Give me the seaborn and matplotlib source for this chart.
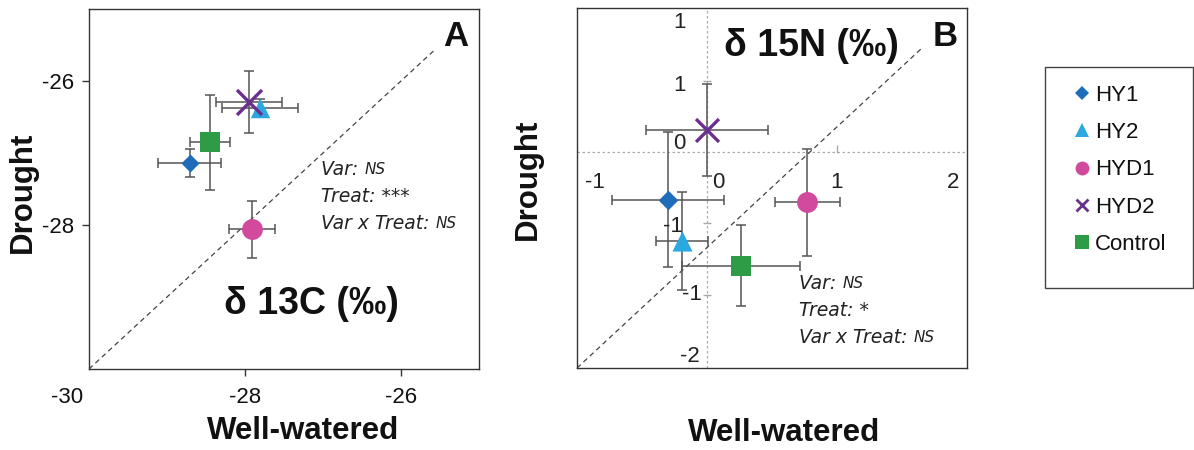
import matplotlib
matplotlib.use("Agg")
import matplotlib.pyplot as plt
import matplotlib.transforms as mtransforms
from matplotlib.lines import Line2D
from matplotlib.patches import Rectangle
import seaborn as sns
import pandas as pd

# ---------------- data ----------------
varieties = ["HY1", "HY2", "HYD1", "HYD2", "Control"]
colors = ["#1f6db8", "#2ba8e0", "#d24a9d", "#6b2f8f", "#2e9b47"]
markers = ["D", "^", "o", "x", "s"]

# Panel A: delta 13C
c13_ww = [-28.71, -27.81, -27.91, -27.95, -28.45]
c13_ww_err = [0.40, 0.49, 0.29, 0.42, 0.26]
c13_dr = [-27.14, -26.37, -28.06, -26.29, -26.85]
c13_dr_err = [0.20, 0.12, 0.40, 0.43, 0.66]

# Panel B: delta 15N
n15_ww = [-0.30, -0.19, 0.77, 0.00, 0.26]
n15_ww_err = [0.43, 0.20, 0.25, 0.47, 0.455]
n15_dr = [-0.33, -0.62, -0.35, 0.15, -0.79]
n15_dr_err = [0.47, 0.34, 0.37, 0.32, 0.28]

a_xticks = [-30, -28, -26]
a_yticks = [-26, -28]

# stray tick labels visible inside panel B (text, x, y)
b_labels = ["1", "1", "0", "-1", "0", "1", "2", "-1", "-1", "-2"]
b_label_x = [-0.215, -0.215, -0.215, -0.86, 0.085, 1.0, 1.89, -0.26, -0.115, -0.13]
b_label_y = [0.90, 0.465, 0.06, -0.21, -0.21, -0.21, -0.21, -0.52, -0.99, -1.42]

stats_a = [("Var: ", "NS"), ("Treat: ***", ""), ("Var x Treat: ", "NS")]
stats_b = [("Var: ", "NS"), ("Treat: *", ""), ("Var x Treat: ", "NS")]

# ---------------- style ----------------
sns.set_theme(style="white")
plt.rcParams["font.family"] = ["Liberation Sans", "DejaVu Sans"]
plt.rcParams["axes.edgecolor"] = "#333333"
plt.rcParams["axes.linewidth"] = 1.0
plt.rcParams["text.color"] = "#111111"
plt.rcParams["axes.labelcolor"] = "#111111"
plt.rcParams["xtick.color"] = "#111111"
plt.rcParams["ytick.color"] = "#111111"

fig = plt.figure(figsize=(11.94, 4.5), dpi=100)
W, H = 1194, 450


def px_axes(l, t, r, b):
    return fig.add_axes([l / W, 1 - b / H, (r - l) / W, (b - t) / H])


axA = px_axes(89, 9, 479, 369)
axB = px_axes(577, 8, 967, 368)

sizes_A = [9.2, 14, 15, 18, 14.4]
sizes_B = [10, 14.5, 15, 16.5, 15]
err_color = "#555555"


def draw_points(ax, xs, xe, ys, ye, sizes):
    df = pd.DataFrame({"variety": varieties, "ww": xs, "dr": ys,
                       "xe": xe, "ye": ye})
    ax.errorbar(df["ww"], df["dr"], xerr=df["xe"], yerr=df["ye"], fmt="none",
                ecolor=err_color, elinewidth=1.1, capsize=3.5, capthick=1.1,
                zorder=2)
    for i, v in enumerate(varieties):
        sub = df[df["variety"] == v]
        if markers[i] == "x":
            sns.scatterplot(data=sub, x="ww", y="dr", marker="x",
                            color=colors[i], s=sizes[i] ** 2, linewidth=2.4,
                            ax=ax, zorder=3, legend=False)
        else:
            sns.scatterplot(data=sub, x="ww", y="dr", marker=markers[i],
                            color=colors[i], s=sizes[i] ** 2, linewidth=0,
                            ax=ax, zorder=3, legend=False)
    ax.set_xlabel("")
    ax.set_ylabel("")


def stats_text(ax, x, y0, dy, lines):
    for k, (main, small) in enumerate(lines):
        t = ax.text(x, y0 - k * dy, main, transform=ax.transAxes,
                    fontsize=13.5, style="italic", family="DejaVu Sans",
                    va="baseline", ha="left", color="#222222")
        if small:
            ax.annotate(small, xy=(1, 0), xycoords=t, xytext=(0, 1),
                        textcoords="offset points", fontsize=11,
                        style="italic", family="DejaVu Sans", va="bottom",
                        ha="left", color="#222222")


# ---------------- Panel A ----------------
draw_points(axA, c13_ww, c13_ww_err, c13_dr, c13_dr_err, sizes_A)
axA.set_xlim(-30, -25)
axA.set_ylim(-30, -25)
axA.plot([-30, -25.56], [-30, -25.56], ls=(0, (4, 3)), color="#444444",
         lw=0.9, zorder=1)
axA.set_xticks(a_xticks)
axA.set_xticklabels([str(t) for t in a_xticks])
axA.set_yticks(a_yticks)
axA.set_yticklabels([str(t) for t in a_yticks])
axA.tick_params(axis="both", labelsize=16, length=5, width=1,
                color="#333333", direction="out", pad=6, bottom=True,
                left=True)
axA.tick_params(axis="x", pad=8)
lab0 = axA.get_xticklabels()[0]
lab0.set_transform(lab0.get_transform() +
                   mtransforms.ScaledTranslation(-0.22, 0, fig.dpi_scale_trans))
axA.xaxis.get_major_ticks()[0].tick1line.set_visible(False)
axA.set_xlabel("Well-watered", fontsize=22.5, fontweight="bold")
axA.set_ylabel("Drought", fontsize=22.5, fontweight="bold")
axA.xaxis.set_label_coords(0.55, -0.13)
axA.yaxis.set_label_coords(-0.131, 0.49)
axA.text(0.94, 0.925, "A", transform=axA.transAxes, fontsize=25,
         fontweight="bold", ha="center", va="center")
axA.text(0.57, 0.18, "δ 13C (‰)", transform=axA.transAxes, fontsize=27,
         fontweight="bold", ha="center", va="center")
stats_text(axA, 0.595, 0.54, 0.075, stats_a)
for s in axA.spines.values():
    s.set_visible(True)

# ---------------- Panel B ----------------
draw_points(axB, n15_ww, n15_ww_err, n15_dr, n15_dr_err, sizes_B)
axB.set_xlim(-1, 2)
axB.set_ylim(-1.5, 1.0)
axB.axhline(0, color="#aaaaaa", lw=0.9, ls=(0, (2, 2)), zorder=0)
axB.axvline(0, color="#aaaaaa", lw=0.9, ls=(0, (2, 2)), zorder=0)
axB.plot([-1, 1.654], [-1.5, 0.722], ls=(0, (4, 3)), color="#444444",
         lw=0.9, zorder=1)
# small stray tick marks on the inner axes
axB.plot([0, 0, 0], [0.49, -0.49, -0.99], ls="none", marker="_",
         ms=6, mew=1, color="#aaaaaa", zorder=1)
axB.plot([1], [0.02], ls="none", marker="|", ms=6, mew=1, color="#aaaaaa",
         zorder=1)
for t, x, y in zip(b_labels, b_label_x, b_label_y):
    axB.text(x, y, t, fontsize=16, ha="center", va="center", color="#222222",
             zorder=2)
axB.set_xticks([])
axB.set_yticks([])
axB.set_xlabel("Well-watered", fontsize=22.5, fontweight="bold")
axB.set_ylabel("Drought", fontsize=22.5, fontweight="bold")
axB.xaxis.set_label_coords(0.53, -0.14)
axB.yaxis.set_label_coords(-0.087, 0.525)
axB.text(0.945, 0.92, "B", transform=axB.transAxes, fontsize=25,
         fontweight="bold", ha="center", va="center")
axB.text(0.6, 0.895, "δ 15N (‰)", transform=axB.transAxes, fontsize=27,
         fontweight="bold", ha="center", va="center")
stats_text(axB, 0.57, 0.22, 0.075, stats_b)
for s in axB.spines.values():
    s.set_visible(True)

# ---------------- Legend ----------------
fig.patches.append(Rectangle((1045 / W, 1 - 288 / H), (1193 - 1045) / W,
                             (288 - 67) / H, transform=fig.transFigure,
                             fill=False, edgecolor="#444444", lw=1.0))
leg_sizes = [7, 10, 10, 9, 9.5]
handles = []
for i, v in enumerate(varieties):
    if markers[i] == "x":
        h = Line2D([], [], ls="none", marker="x", color=colors[i],
                   markersize=leg_sizes[i], mew=2)
    else:
        h = Line2D([], [], ls="none", marker=markers[i], color=colors[i],
                   markersize=leg_sizes[i], mew=0)
    handles.append(h)
fig.legend(handles, varieties, loc="upper left",
           bbox_to_anchor=(1073 / W, 1 - 85 / H), frameon=False, fontsize=16,
           handlelength=0.8, handletextpad=0.2, labelspacing=0.73,
           borderpad=0, borderaxespad=0)

fig.savefig("out.png", dpi=100)
